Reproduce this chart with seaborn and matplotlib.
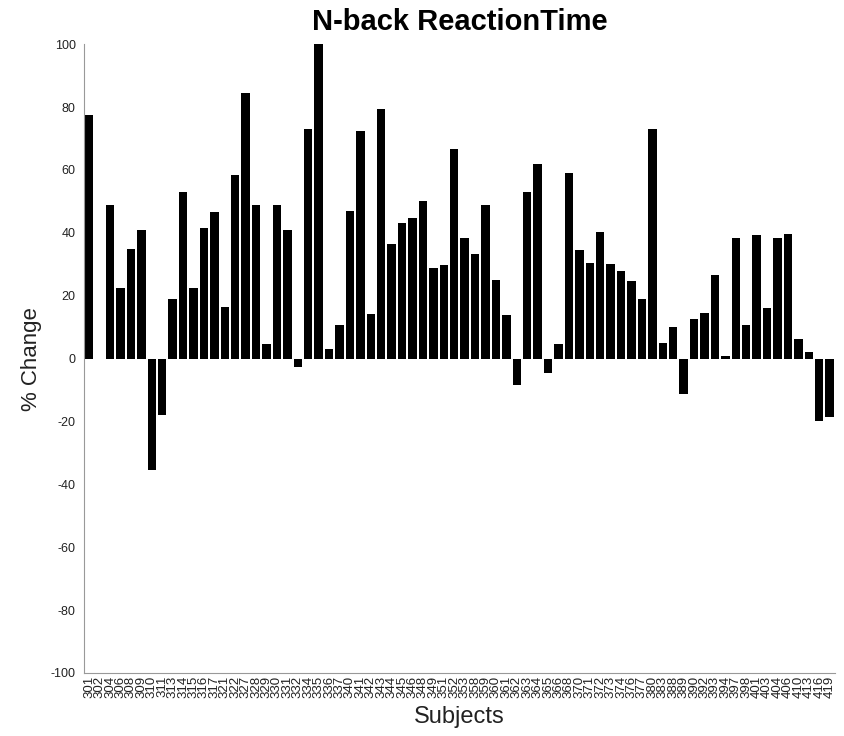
import pandas as pd
import seaborn as sns
import matplotlib.pyplot as plt
import numpy as np

# subject ids (read as well as possible off the rotated tick labels)
subjects = ["301", "302", "304", "306", "308", "309",
            "310", "311", "313", "314", "315", "316", "317",
            "321", "322", "327", "328", "329",
            "330", "331", "332", "334", "335", "336", "337", "340", "341",
            "342", "343", "344", "345", "346", "348", "349", "351", "352", "353",
            "358", "359", "360", "361", "362", "363", "364", "365", "366",
            "368", "370", "371", "372", "373", "374", "376", "377",
            "380", "383", "388", "389", "390", "392", "393", "394", "397", "398",
            "401", "403", "404", "406",
            "410", "413", "416", "419"]

# % change in reaction time per subject
pct_change = [77.5, 0.0, 49, 22.6, 35, 41,
              -35.5, -17.8, 18.8, 53, 22.6, 41.5, 46.5,
              16.3, 58.5, 84.5, 48.7, 4.5,
              49, 41, -2.7, 73, 100, 3.2, 10.8, 47, 72.5,
              14.3, 79.5, 36.3, 43, 44.8, 50, 28.8, 29.8, 66.8, 38.5,
              33.4, 49, 25, 14, -8.3, 53, 61.8, -4.5, 4.7,
              59, 34.6, 30.3, 40.2, 30.2, 28, 24.6, 19,
              73, 5, 10.2, -11.3, 12.7, 14.4, 26.7, 0.8, 38.5, 10.8,
              39.2, 16, 38.5, 39.5,
              6.1, 2, -19.7, -18.5]

df = pd.DataFrame({"Subject": subjects, "Change": pct_change})

sns.set_style("white")
plt.rcParams['font.family'] = ['Liberation Sans', 'DejaVu Sans']
plt.rcParams['axes.unicode_minus'] = False

fig = plt.figure(figsize=(8.45, 7.36), dpi=100)
ax = fig.add_axes([0.0994, 0.0856, 0.8886, 0.8544])

sns.barplot(data=df, x="Subject", y="Change", order=subjects,
            color="black", saturation=1, width=0.8, linewidth=0,
            errorbar=None, ax=ax)

ax.set_ylim(-100, 100)
ax.set_yticks(np.arange(-100, 101, 20))
ax.set_xlim(-0.5, len(subjects) - 0.5)

ax.set_title("N-back ReactionTime", fontsize=21, fontweight="bold",
             color="black", pad=10)
ax.set_xlabel("Subjects", fontsize=17, labelpad=6, color="#222222")
ax.set_ylabel("% Change", fontsize=16, labelpad=6, color="#222222")

ax.tick_params(axis="x", labelrotation=90, labelsize=9.5, direction="in",
               length=4, width=0.6, color="#888888", pad=2,
               labelcolor="#222222")
ax.tick_params(axis="y", labelsize=9, direction="in", length=5,
               width=0.6, color="#888888", pad=6, labelcolor="#222222")

for side in ["top", "right"]:
    ax.spines[side].set_visible(False)
for side in ["left", "bottom"]:
    ax.spines[side].set_color("#999999")
    ax.spines[side].set_linewidth(0.8)

fig.savefig("out.png", dpi=100)
